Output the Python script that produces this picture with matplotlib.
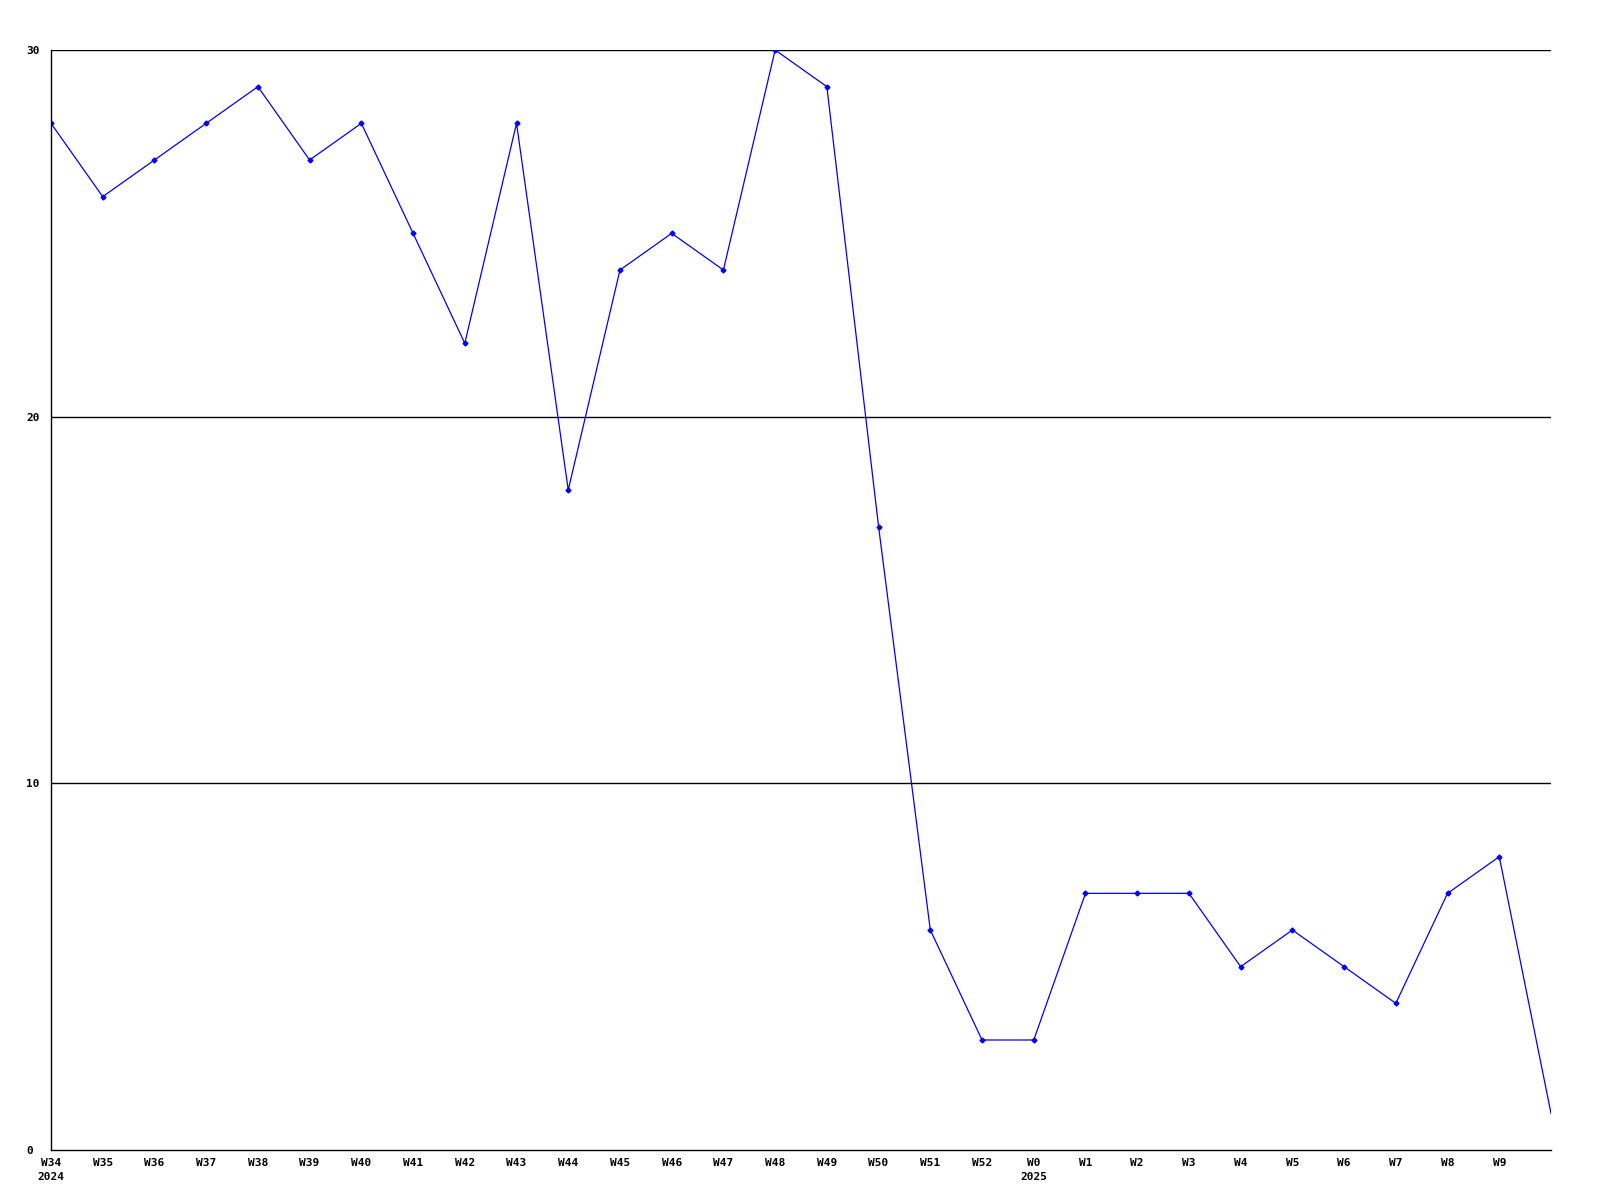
import matplotlib.pyplot as plt

plt.rcParams['font.family'] = ['DejaVu Sans Mono']

weeks = ["W34", "W35", "W36", "W37", "W38", "W39", "W40", "W41", "W42", "W43",
         "W44", "W45", "W46", "W47", "W48", "W49", "W50", "W51", "W52", "W0",
         "W1", "W2", "W3", "W4", "W5", "W6", "W7", "W8", "W9", ""]
values = [28, 26, 27, 28, 29, 27, 28, 25, 22, 28,
          18, 24, 25, 24, 30, 29, 17, 6, 3, 3,
          7, 7, 7, 5, 6, 5, 4, 7, 8, 1]
years = {"W34": "2024", "W0": "2025"}
y_ticks = [0, 10, 20, 30]

fig = plt.figure(figsize=(16, 12), dpi=100)
ax = fig.add_axes([51 / 1600, 50 / 1200, 1500 / 1600, 1100 / 1200])

x = list(range(len(values)))
# the last point has no marker in the original
ax.plot(x, values, color="#0000ff", lw=0.9, marker="D", ms=2.5, mec="#0000ff", mfc="#0000ff",
        markevery=list(range(len(values) - 1)))

ax.set_xlim(0, len(values) - 1)
ax.set_ylim(0, 30)

for v in y_ticks[1:]:
    ax.axhline(v, color="black", lw=1, zorder=0)

ax.spines["top"].set_visible(False)
ax.spines["right"].set_visible(False)
ax.spines["left"].set_linewidth(1)
ax.spines["bottom"].set_linewidth(1)

ax.set_xticks(x)
ax.set_xticklabels(weeks, fontsize=8, fontweight="bold")
ax.set_yticks(y_ticks)
ax.set_yticklabels([str(v) for v in y_ticks], fontsize=8, fontweight="bold")
ax.tick_params(axis="both", length=0)
ax.tick_params(axis="x", pad=6)
ax.tick_params(axis="y", pad=18)
for lbl in ax.get_yticklabels():
    lbl.set_horizontalalignment("left")

for i, w in enumerate(weeks):
    if w in years:
        ax.annotate(years[w], xy=(i, 0), xycoords=("data", "axes fraction"),
                    xytext=(-9.5, -16), textcoords="offset points",
                    ha="left", va="top", fontsize=8, fontweight="bold")

fig.savefig("out.png", dpi=100)
